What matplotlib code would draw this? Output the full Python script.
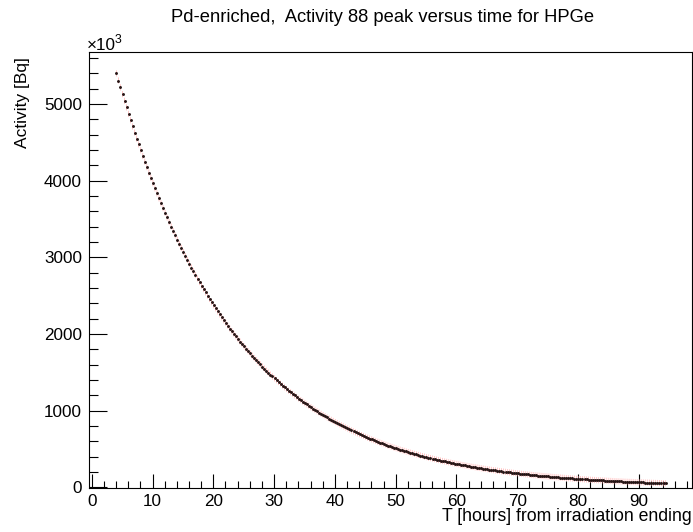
import matplotlib
matplotlib.use("Agg")
import matplotlib.pyplot as plt
from matplotlib.ticker import MultipleLocator
import numpy as np

plt.rcParams['font.family'] = ['Liberation Sans', 'DejaVu Sans']

title = "Pd-enriched,  Activity 88 peak versus time for HPGe"
xlabel = "T [hours] from irradiation ending"
ylabel = "Activity [Bq]"
mult_base = "\u00d710"
mult_exp = "3"

hours = [
    4.07, 4.40, 4.73, 5.07, 5.40, 5.73, 6.07, 6.40, 6.73, 7.07, 7.40, 7.73, 8.07, 8.40, 8.73,
    9.07, 9.40, 9.73, 10.07, 10.40, 10.73, 11.07, 11.40, 11.73, 12.07, 12.40, 12.73, 13.07, 13.40, 13.73,
    14.07, 14.40, 14.73, 15.07, 15.40, 15.73, 16.07, 16.40, 16.73, 17.07, 17.40, 17.73, 18.07, 18.40, 18.73,
    19.07, 19.40, 19.73, 20.07, 20.40, 20.73, 21.07, 21.40, 21.73, 22.07, 22.40, 22.73, 23.07, 23.40, 23.73,
    24.07, 24.40, 24.73, 25.07, 25.40, 25.73, 26.07, 26.40, 26.73, 27.07, 27.40, 27.73, 28.07, 28.40, 28.73,
    29.07, 29.40, 29.73, 30.07, 30.40, 30.73, 31.07, 31.40, 31.73, 32.07, 32.40, 32.73, 33.07, 33.40, 33.73,
    34.07, 34.40, 34.73, 35.07, 35.40, 35.73, 36.07, 36.40, 36.73, 37.07, 37.40, 37.73, 38.07, 38.40, 38.73,
    39.07, 39.40, 39.73, 40.07, 40.40, 40.73, 41.07, 41.40, 41.73, 42.07, 42.40, 42.73, 43.07, 43.40, 43.73,
    44.07, 44.40, 44.73, 45.07, 45.40, 45.73, 46.07, 46.40, 46.73, 47.07, 47.40, 47.73, 48.07, 48.40, 48.73,
    49.07, 49.40, 49.73, 50.07, 50.40, 50.73, 51.07, 51.40, 51.73, 52.07, 52.40, 52.73, 53.07, 53.40, 53.73,
    54.07, 54.40, 54.73, 55.07, 55.40, 55.73, 56.07, 56.40, 56.73, 57.07, 57.40, 57.73, 58.07, 58.40, 58.73,
    59.07, 59.40, 59.73, 60.07, 60.40, 60.73, 61.07, 61.40, 61.73, 62.07, 62.40, 62.73, 63.07, 63.40, 63.73,
    64.07, 64.40, 64.73, 65.07, 65.40, 65.73, 66.07, 66.40, 66.73, 67.07, 67.40, 67.73, 68.07, 68.40, 68.73,
    69.07, 69.40, 69.73, 70.07, 70.40, 70.73, 71.07, 71.40, 71.73, 72.07, 72.40, 72.73, 73.07, 73.40, 73.73,
    74.07, 74.40, 74.73, 75.07, 75.40, 75.73, 76.07, 76.40, 76.73, 77.07, 77.40, 77.73, 78.07, 78.40, 78.73,
    79.07, 79.40, 79.73, 80.07, 80.40, 80.73, 81.07, 81.40, 81.73, 82.07, 82.40, 82.73, 83.07, 83.40, 83.73,
    84.07, 84.40, 84.73, 85.07, 85.40, 85.73, 86.07, 86.40, 86.73, 87.07, 87.40, 87.73, 88.07, 88.40, 88.73,
    89.07, 89.40, 89.73, 90.07, 90.40, 90.73, 91.07, 91.40, 91.73, 92.07, 92.40, 92.73, 93.07, 93.40, 93.73,
    94.07, 94.40,
]

activity = [
    5400, 5308, 5218, 5130, 5043, 4957, 4873, 4790, 4709, 4629, 4551, 4474, 4398, 4323, 4250,
    4178, 4107, 4037, 3969, 3901, 3835, 3770, 3706, 3643, 3581, 3521, 3461, 3402, 3344, 3288,
    3232, 3177, 3123, 3070, 3018, 2967, 2917, 2867, 2819, 2771, 2724, 2678, 2632, 2587, 2544,
    2500, 2458, 2416, 2375, 2335, 2295, 2256, 2218, 2181, 2144, 2107, 2071, 2036, 2002, 1968,
    1934, 1902, 1869, 1838, 1806, 1776, 1746, 1716, 1687, 1658, 1630, 1603, 1575, 1549, 1522,
    1497, 1471, 1446, 1422, 1398, 1374, 1351, 1328, 1305, 1283, 1261, 1240, 1219, 1198, 1178,
    1158, 1138, 1119, 1100, 1081, 1063, 1045, 1027, 1010, 992.5, 975.7, 959.1, 942.8, 926.8, 911.1,
    895.6, 880.4, 865.5, 850.8, 836.4, 822.2, 808.2, 794.5, 781.0, 767.8, 754.8, 742.0, 729.4, 717.0, 704.9,
    692.9, 681.1, 669.6, 658.2, 647.0, 636.1, 625.3, 614.7, 604.3, 594.0, 583.9, 574.0, 564.3, 554.7, 545.3,
    536.1, 527.0, 518.1, 509.3, 500.7, 492.2, 483.8, 475.6, 467.5, 459.6, 451.8, 444.1, 436.6, 429.2, 421.9,
    414.8, 407.8, 400.8, 394.0, 387.3, 380.7, 374.3, 367.9, 361.7, 355.6, 349.6, 343.6, 337.8, 332.1, 326.4,
    320.9, 315.5, 310.1, 304.8, 299.6, 294.5, 289.5, 284.6, 279.8, 275.0, 270.3, 265.7, 261.2, 256.8, 252.4,
    248.1, 243.9, 239.8, 235.7, 231.7, 227.8, 223.9, 220.1, 216.4, 212.7, 209.1, 205.5, 202.1, 198.7, 195.3,
    192.0, 188.7, 185.5, 182.4, 179.3, 176.3, 173.3, 170.4, 167.5, 164.6, 161.8, 159.1, 156.4, 153.7, 151.1,
    148.6, 146.1, 143.6, 141.2, 138.8, 136.4, 134.1, 131.8, 129.6, 127.4, 125.2, 123.1, 121.0, 118.9, 116.9,
    114.9, 113.0, 111.0, 109.2, 107.3, 105.5, 103.7, 101.9, 100.2, 98.5, 96.8, 95.2, 93.6, 92.0, 90.5,
    88.9, 87.4, 85.9, 84.5, 83.1, 81.7, 80.3, 78.9, 77.6, 76.3, 75.0, 73.7, 72.5, 71.3, 70.1,
    68.9, 67.7, 66.6, 65.4, 64.3, 63.2, 62.1, 61.0, 60.0, 59.0, 58.0, 57.0, 56.1, 55.1, 54.2,
    53.3, 52.4,
]

activity_err = 40  # vertical error bar half-length

W, H = 693, 532
fig = plt.figure(figsize=(W / 100, H / 100), dpi=100)
ax = fig.add_axes([89 / W, 1 - 488.3 / H, (692.3 - 89) / W, (488.3 - 52) / H])

act = np.asarray(activity)
ax.vlines(hours, act - activity_err, act + activity_err, colors='#ff9090',
          linewidth=0.5, zorder=2, snap=False, alpha=0.7)
ax.plot(hours, activity, ls='none', marker='o', ms=2.1, mew=0,
        color='#261414', zorder=3, snap=False)

ax.set_xlim(-0.45, 98.8)
ax.set_ylim(-13, 5680)

ax.xaxis.set_major_locator(MultipleLocator(10))
ax.xaxis.set_minor_locator(MultipleLocator(2))
ax.yaxis.set_major_locator(MultipleLocator(1000))
ax.yaxis.set_minor_locator(MultipleLocator(200))

ax.tick_params(axis='x', which='major', direction='in', length=10, width=0.8,
               labelsize=12.3, pad=4, top=False)
ax.tick_params(axis='x', which='minor', direction='in', length=5, width=0.8, top=False)
ax.tick_params(axis='y', which='major', direction='in', length=13, width=0.8,
               labelsize=12.3, pad=5, right=False)
ax.tick_params(axis='y', which='minor', direction='in', length=6.5, width=0.8, right=False)

for s in ax.spines.values():
    s.set_linewidth(0.8)
    s.set_color('black')

fig.text(383 / W, 1 - 17 / H, title, ha='center', va='center', fontsize=13.2)
fig.text(692 / W, 1 - 521 / H, xlabel, ha='right', va='baseline', fontsize=12.7)
fig.text(23 / W, 1 - 103 / H, ylabel, ha='center', va='center', rotation=90, fontsize=12.5)
fig.text(87 / W, 1 - 49.5 / H, mult_base, ha='left', va='baseline', fontsize=12.3)
fig.text(115 / W, 1 - 43 / H, mult_exp, ha='left', va='baseline', fontsize=8.8)

fig.savefig("out.png", dpi=100)
